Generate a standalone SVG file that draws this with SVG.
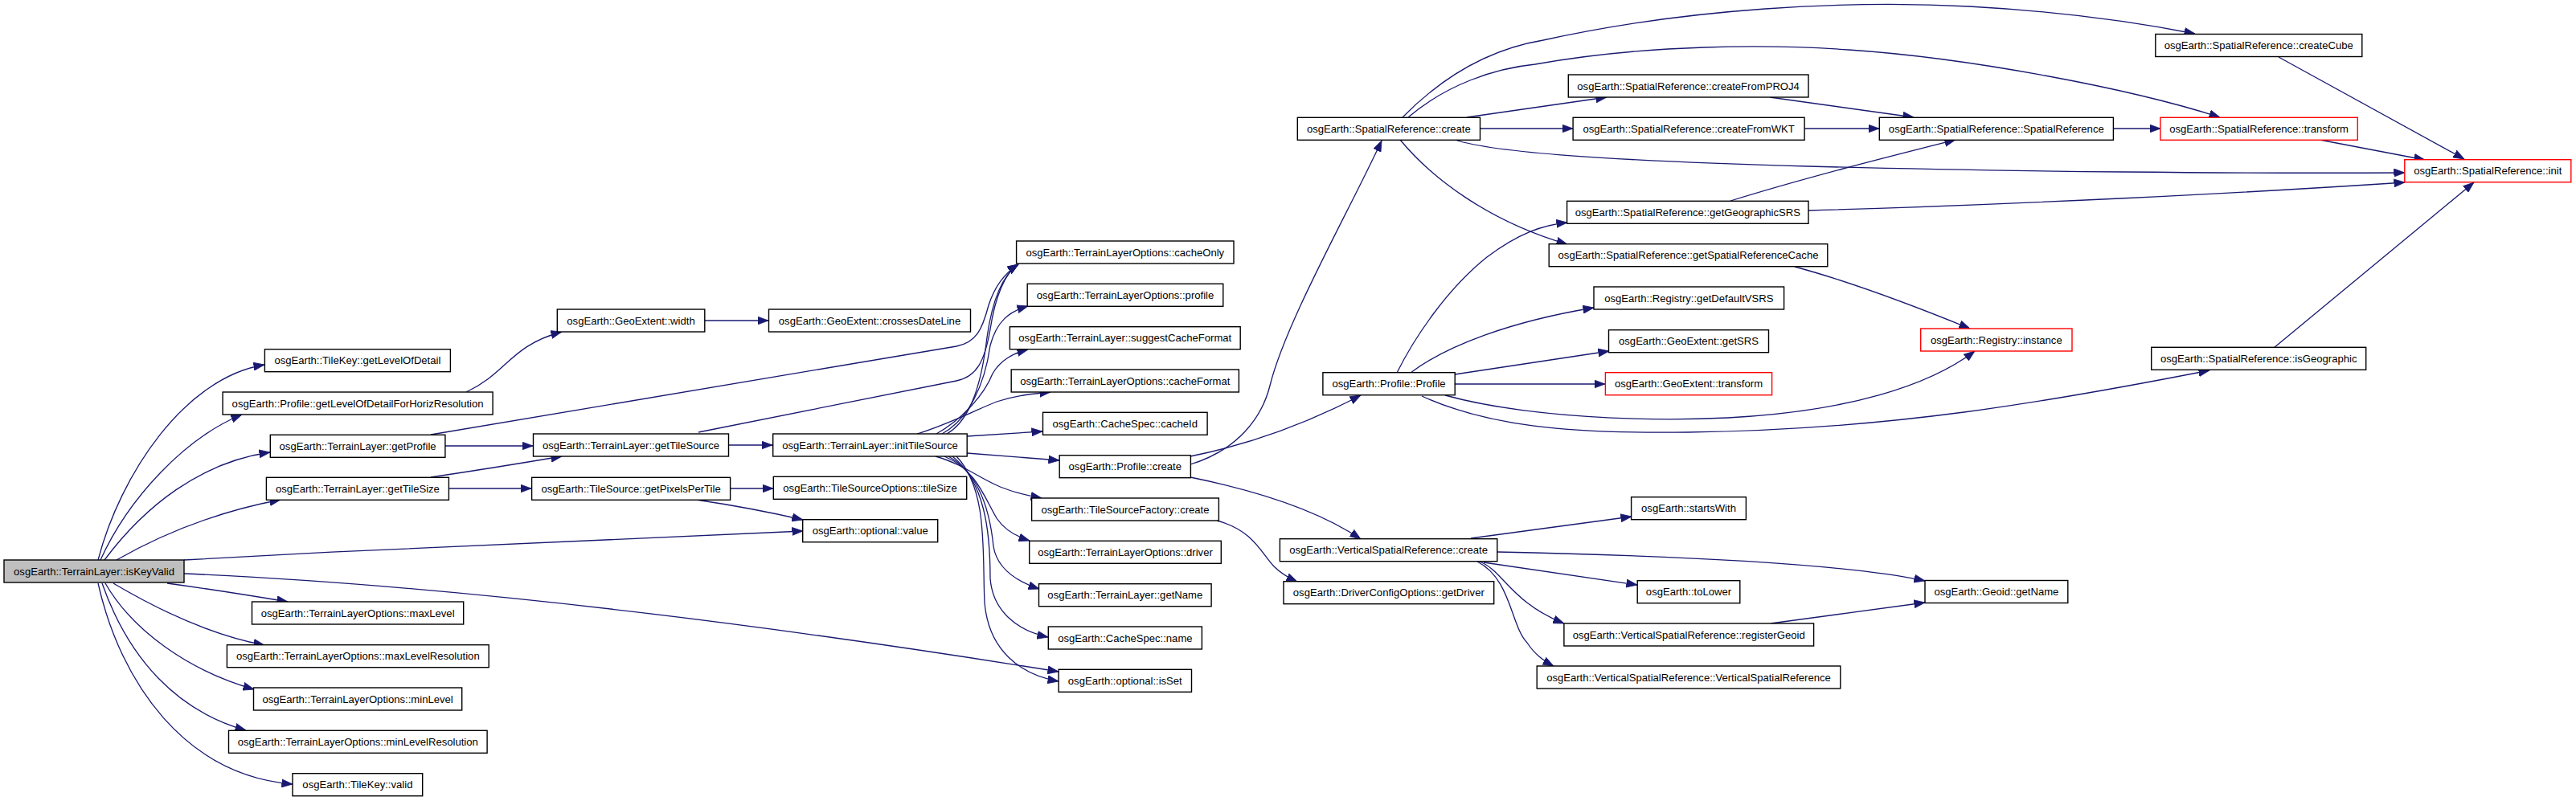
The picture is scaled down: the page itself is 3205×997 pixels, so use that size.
<svg xmlns="http://www.w3.org/2000/svg" width="3205" height="997" viewBox="0 0 3205 997">
<style>
.n rect{fill:#ffffff;stroke:#000000;stroke-width:1.4}
.r rect{fill:#ffffff;stroke:#ff0000;stroke-width:1.4}
.root rect{fill:#bfbfbf;stroke:#000000;stroke-width:1.4}
text{font-family:"Liberation Sans",Arial,Helvetica,sans-serif;font-size:13.1px;fill:#000000;text-anchor:middle}
.e path{fill:none;stroke:#191970;stroke-width:1.3;marker-end:url(#a)}
</style>
<defs>
<marker id="a" markerUnits="userSpaceOnUse" markerWidth="14" markerHeight="11" viewBox="0 0 14 11" refX="13.5" refY="5.5" orient="auto">
<path d="M0,0.5 L13.5,5.5 L0,10.5 z" fill="#191970" stroke="#191970" stroke-width="0.8"/>
</marker>
</defs>
<rect width="3205" height="997" fill="#ffffff"/>
<g id="edges" class="e">
<path d="M122,697 C150,590 230,470 329,454"/>
<path d="M125,697 C160,620 230,545 301,516"/>
<path d="M130,697 C180,630 250,575 336,563"/>
<path d="M145,697 C210,660 280,635 349,622"/>
<path d="M229,697 C500,682 800,668 999,661"/>
<path d="M229,714 C600,730 1000,785 1317,836"/>
<path d="M208,726 C260,733 310,741 358,749"/>
<path d="M141,726 C190,755 260,790 329,803"/>
<path d="M131,726 C165,785 235,835 316,858"/>
<path d="M127,726 C160,820 220,885 306,909"/>
<path d="M122,726 C150,850 230,965 364,976"/>
<path d="M580,488 C630,465 635,430 699,413"/>
<path d="M877,399 L956,399"/>
<path d="M554,555 L663,555"/>
<path d="M536,541 L1190,431 C1215,426 1222,410 1230,380 C1238,355 1250,340 1267,329"/>
<path d="M869,538 L1190,474 C1215,469 1225,450 1232,410 C1238,370 1250,340 1267,329"/>
<path d="M536,594 C590,586 640,578 699,568"/>
<path d="M558,608 L661,608"/>
<path d="M906,554 L961,554"/>
<path d="M908,608 L962,608"/>
<path d="M866,622 C920,630 960,638 999,647"/>
<path d="M1203,543 L1297,537"/>
<path d="M1203,564 L1318,573"/>
<path d="M1141,540 C1180,528 1210,512 1240,500 C1265,492 1285,490 1307,488"/>
<path d="M1165,540 C1200,520 1225,490 1235,465 C1245,448 1260,440 1279,435"/>
<path d="M1172,540 C1205,522 1225,480 1232,430 C1240,400 1255,388 1279,381"/>
<path d="M1178,540 C1210,522 1222,470 1228,420 C1235,370 1248,342 1267,329"/>
<path d="M1164,568 C1200,578 1225,600 1250,608 C1265,614 1280,617 1296,620"/>
<path d="M1175,568 C1215,585 1225,620 1240,645 C1250,660 1265,668 1281,673"/>
<path d="M1180,568 C1220,590 1232,640 1236,680 C1240,705 1260,722 1293,733"/>
<path d="M1185,568 C1225,600 1232,660 1232,720 C1235,760 1265,785 1304,793"/>
<path d="M1190,568 C1230,610 1222,690 1225,750 C1230,810 1270,840 1317,848"/>
<path d="M1481,578 C1540,560 1570,520 1580,480 C1600,400 1680,260 1719,175"/>
<path d="M1481,568 C1560,552 1630,525 1693,492"/>
<path d="M1481,594 C1560,610 1640,635 1693,671"/>
<path d="M1514,648 C1560,660 1570,690 1585,705 C1595,715 1605,720 1614,724"/>
<path d="M1745,146 C1800,90 1860,60 1920,50 C2100,10 2300,0 2450,8 C2560,14 2660,28 2731,42"/>
<path d="M1752,146 C1800,105 1860,85 1910,80 C2050,55 2200,55 2300,62 C2450,72 2650,110 2762,146"/>
<path d="M1825,146 L1999,121"/>
<path d="M1841,160 L1957,160"/>
<path d="M1810,174 C1860,190 2000,200 2250,207 C2500,214 2800,216 2992,215"/>
<path d="M1742,174 C1780,220 1850,275 1950,304"/>
<path d="M2202,121 L2381,146"/>
<path d="M2245,160 L2338,160"/>
<path d="M2153,250 C2250,220 2350,195 2433,174"/>
<path d="M2250,262 C2500,255 2800,240 2992,227"/>
<path d="M2233,332 C2300,350 2380,380 2451,409"/>
<path d="M2629,160 L2688,160"/>
<path d="M2886,174 L3017,199"/>
<path d="M2835,71 L3066,198"/>
<path d="M2829,433 L3078,227"/>
<path d="M1738,464 C1760,420 1800,360 1850,320 C1890,290 1920,280 1950,277"/>
<path d="M1755,464 C1800,430 1880,400 1983,383"/>
<path d="M1810,466 L2002,437"/>
<path d="M1810,478 L1997,478"/>
<path d="M1798,492 C1900,520 2050,525 2150,520 C2300,512 2400,480 2457,437"/>
<path d="M1769,493 C1850,530 1950,540 2100,538 C2350,535 2550,500 2749,461"/>
<path d="M1830,670 L2030,643"/>
<path d="M1863,687 C2100,692 2300,702 2395,723"/>
<path d="M1846,700 L2037,728"/>
<path d="M1841,699 C1870,710 1880,750 1946,776"/>
<path d="M1838,699 C1880,720 1880,780 1900,800 C1910,815 1920,822 1933,829"/>
<path d="M2203,776 L2395,750"/>
</g>
<g id="n1" class="root"><rect x="5" y="697" width="224" height="28"/><text x="117" y="715.6">osgEarth::TerrainLayer::isKeyValid</text></g>
<g id="n2" class="n"><rect x="329.4" y="434.7" width="231" height="28"/><text x="444.9" y="453.3">osgEarth::TileKey::getLevelOfDetail</text></g>
<g id="n3" class="n"><rect x="277.1" y="488" width="336" height="28"/><text x="445.1" y="506.6">osgEarth::Profile::getLevelOfDetailForHorizResolution</text></g>
<g id="n4" class="n"><rect x="336.3" y="541.3" width="217.6" height="28"/><text x="445.1" y="559.9">osgEarth::TerrainLayer::getProfile</text></g>
<g id="n5" class="n"><rect x="331.4" y="594.3" width="227" height="28"/><text x="444.9" y="612.9">osgEarth::TerrainLayer::getTileSize</text></g>
<g id="n6" class="n"><rect x="313.5" y="749" width="263.2" height="28"/><text x="445.1" y="767.6">osgEarth::TerrainLayerOptions::maxLevel</text></g>
<g id="n7" class="n"><rect x="282.4" y="802.7" width="325.8" height="28"/><text x="445.3" y="821.3">osgEarth::TerrainLayerOptions::maxLevelResolution</text></g>
<g id="n8" class="n"><rect x="315.5" y="856" width="259.2" height="28"/><text x="445.1" y="874.6">osgEarth::TerrainLayerOptions::minLevel</text></g>
<g id="n9" class="n"><rect x="284.5" y="909.3" width="321.6" height="28"/><text x="445.3" y="927.9">osgEarth::TerrainLayerOptions::minLevelResolution</text></g>
<g id="n10" class="n"><rect x="364" y="962.7" width="161.7" height="28"/><text x="444.9" y="981.3">osgEarth::TileKey::valid</text></g>
<g id="n11" class="n"><rect x="693.3" y="385" width="183.5" height="28"/><text x="785" y="403.6">osgEarth::GeoExtent::width</text></g>
<g id="n12" class="n"><rect x="663.5" y="540" width="243" height="28"/><text x="785" y="558.6">osgEarth::TerrainLayer::getTileSource</text></g>
<g id="n13" class="n"><rect x="661.6" y="594.3" width="247" height="28"/><text x="785.1" y="612.9">osgEarth::TileSource::getPixelsPerTile</text></g>
<g id="n14" class="n"><rect x="956.5" y="385" width="251" height="28"/><text x="1082" y="403.6">osgEarth::GeoExtent::crossesDateLine</text></g>
<g id="n15" class="n"><rect x="961.7" y="540" width="241.5" height="28"/><text x="1082.5" y="558.6">osgEarth::TerrainLayer::initTileSource</text></g>
<g id="n16" class="n"><rect x="962.3" y="593.3" width="240.4" height="28"/><text x="1082.5" y="611.9">osgEarth::TileSourceOptions::tileSize</text></g>
<g id="n17" class="n"><rect x="998.7" y="646.7" width="168" height="28"/><text x="1082.7" y="665.3">osgEarth::optional::value</text></g>
<g id="n18" class="n"><rect x="1264.6" y="300" width="270.4" height="28"/><text x="1399.8" y="318.6">osgEarth::TerrainLayerOptions::cacheOnly</text></g>
<g id="n19" class="n"><rect x="1278.2" y="353.3" width="243.6" height="28"/><text x="1400" y="371.9">osgEarth::TerrainLayerOptions::profile</text></g>
<g id="n20" class="n"><rect x="1256.4" y="406.7" width="286.8" height="28"/><text x="1399.8" y="425.3">osgEarth::TerrainLayer::suggestCacheFormat</text></g>
<g id="n21" class="n"><rect x="1258.2" y="460" width="283.2" height="28"/><text x="1399.8" y="478.6">osgEarth::TerrainLayerOptions::cacheFormat</text></g>
<g id="n22" class="n"><rect x="1297.5" y="513.3" width="204.6" height="28"/><text x="1399.8" y="531.9">osgEarth::CacheSpec::cacheId</text></g>
<g id="n23" class="n"><rect x="1318.2" y="566.7" width="163.2" height="28"/><text x="1399.8" y="585.3">osgEarth::Profile::create</text></g>
<g id="n24" class="n"><rect x="1283.6" y="620" width="232.8" height="28"/><text x="1400" y="638.6">osgEarth::TileSourceFactory::create</text></g>
<g id="n25" class="n"><rect x="1280.7" y="673.3" width="238.6" height="28"/><text x="1400" y="691.9">osgEarth::TerrainLayerOptions::driver</text></g>
<g id="n26" class="n"><rect x="1292.5" y="726.7" width="214.6" height="28"/><text x="1399.8" y="745.3">osgEarth::TerrainLayer::getName</text></g>
<g id="n27" class="n"><rect x="1304.3" y="780" width="191.1" height="28"/><text x="1399.9" y="798.6">osgEarth::CacheSpec::name</text></g>
<g id="n28" class="n"><rect x="1317.1" y="833.3" width="165.4" height="28"/><text x="1399.8" y="851.9">osgEarth::optional::isSet</text></g>
<g id="n29" class="n"><rect x="1614.3" y="146.3" width="227.2" height="28"/><text x="1727.9" y="164.9">osgEarth::SpatialReference::create</text></g>
<g id="n30" class="n"><rect x="1645.9" y="463.7" width="164.3" height="28"/><text x="1728" y="482.3">osgEarth::Profile::Profile</text></g>
<g id="n31" class="n"><rect x="1592.4" y="670.7" width="270.4" height="28"/><text x="1727.6" y="689.3">osgEarth::VerticalSpatialReference::create</text></g>
<g id="n32" class="n"><rect x="1597" y="723.7" width="261.7" height="28"/><text x="1727.8" y="742.3">osgEarth::DriverConfigOptions::getDriver</text></g>
<g id="n33" class="n"><rect x="1951.3" y="93" width="298.7" height="28"/><text x="2100.6" y="111.6">osgEarth::SpatialReference::createFromPROJ4</text></g>
<g id="n34" class="n"><rect x="1957.1" y="146.3" width="288" height="28"/><text x="2101.1" y="164.9">osgEarth::SpatialReference::createFromWKT</text></g>
<g id="n35" class="n"><rect x="1949.6" y="250.3" width="300.4" height="28"/><text x="2099.8" y="268.9">osgEarth::SpatialReference::getGeographicSRS</text></g>
<g id="n36" class="n"><rect x="1927.2" y="303.7" width="346.6" height="28"/><text x="2100.5" y="322.3">osgEarth::SpatialReference::getSpatialReferenceCache</text></g>
<g id="n37" class="n"><rect x="1983" y="357" width="236.6" height="28"/><text x="2101.3" y="375.6">osgEarth::Registry::getDefaultVSRS</text></g>
<g id="n38" class="n"><rect x="2001.5" y="410.7" width="199" height="28"/><text x="2101" y="429.3">osgEarth::GeoExtent::getSRS</text></g>
<g id="n39" class="r"><rect x="1997.4" y="463.7" width="207.2" height="28"/><text x="2101" y="482.3">osgEarth::GeoExtent::transform</text></g>
<g id="n40" class="n"><rect x="2029.6" y="618.7" width="142.8" height="28"/><text x="2101" y="637.3">osgEarth::startsWith</text></g>
<g id="n41" class="n"><rect x="2037.2" y="722.7" width="127.6" height="28"/><text x="2101" y="741.3">osgEarth::toLower</text></g>
<g id="n42" class="n"><rect x="1945.9" y="776" width="310.7" height="28"/><text x="2101.2" y="794.6">osgEarth::VerticalSpatialReference::registerGeoid</text></g>
<g id="n43" class="n"><rect x="1912.2" y="829" width="377.6" height="28"/><text x="2101" y="847.6">osgEarth::VerticalSpatialReference::VerticalSpatialReference</text></g>
<g id="n44" class="n"><rect x="2338.3" y="146.3" width="291.1" height="28"/><text x="2483.8" y="164.9">osgEarth::SpatialReference::SpatialReference</text></g>
<g id="n45" class="r"><rect x="2389.7" y="409" width="188.3" height="28"/><text x="2483.8" y="427.6">osgEarth::Registry::instance</text></g>
<g id="n46" class="n"><rect x="2395" y="722.5" width="177.8" height="28"/><text x="2483.9" y="741.1">osgEarth::Geoid::getName</text></g>
<g id="n47" class="n"><rect x="2681.8" y="42.5" width="257" height="28"/><text x="2810.3" y="61.1">osgEarth::SpatialReference::createCube</text></g>
<g id="n48" class="r"><rect x="2687.9" y="146.3" width="245.4" height="28"/><text x="2810.6" y="164.9">osgEarth::SpatialReference::transform</text></g>
<g id="n49" class="n"><rect x="2676.7" y="432.3" width="267" height="28"/><text x="2810.2" y="450.9">osgEarth::SpatialReference::isGeographic</text></g>
<g id="n50" class="r"><rect x="2991.8" y="198.7" width="207" height="28"/><text x="3095.3" y="217.3">osgEarth::SpatialReference::init</text></g>
</svg>
